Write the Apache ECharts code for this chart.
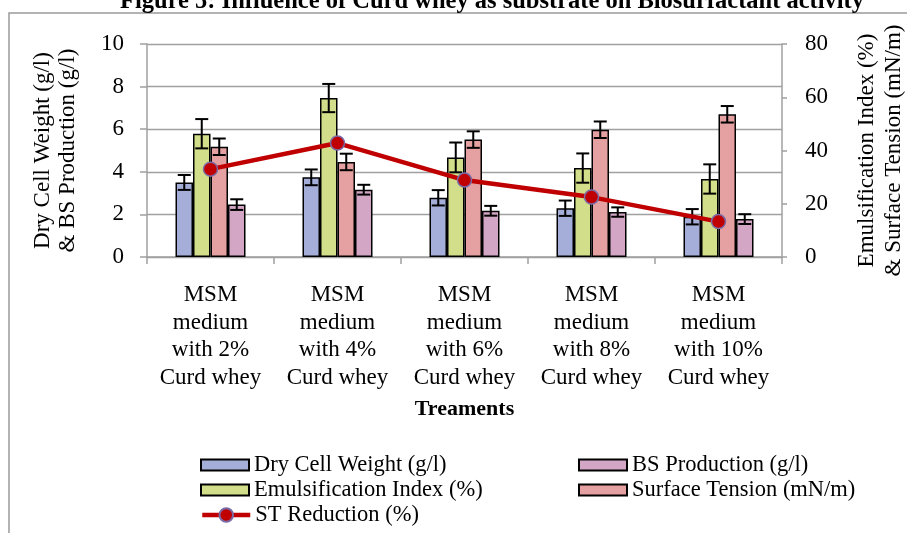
<!DOCTYPE html>
<html>
<head>
<meta charset="utf-8">
<script src="https://cdn.jsdelivr.net/npm/echarts@6/dist/echarts.min.js"></script>
<style>html,body{margin:0;padding:0;background:#fff;}#c{width:907px;height:533px;}</style>
</head>
<body>
<div id="c"></div>
<script>
const titleText = 'Figure 5: Influence of Curd whey as substrate on Biosurfactant activity';
const categories = ['MSM\nmedium\nwith 2%\nCurd whey', 'MSM\nmedium\nwith 4%\nCurd whey', 'MSM\nmedium\nwith 6%\nCurd whey', 'MSM\nmedium\nwith 8%\nCurd whey', 'MSM\nmedium\nwith 10%\nCurd whey'];
const dryCellWeight = [3.5, 3.74, 2.78, 2.29, 1.89];
const dryCellWeightErr = [0.35, 0.37, 0.36, 0.36, 0.36];
const emulsificationIndex = [46.3, 59.7, 37.4, 33.4, 29.3];
const emulsificationIndexErr = [5.5, 5.3, 5.6, 5.5, 5.5];
const surfaceTension = [41.4, 35.7, 44.1, 47.8, 53.6];
const surfaceTensionErr = [3.1, 3.1, 3.1, 3.1, 3.1];
const bsProduction = [2.46, 3.16, 2.17, 2.11, 1.78];
const bsProductionErr = [0.25, 0.23, 0.23, 0.22, 0.23];
const stReduction = [33.0, 42.8, 28.9, 22.5, 13.3];
const leftTicks = {min: 0, max: 10, interval: 2};
const rightTicks = {min: 0, max: 80, interval: 20};

const FONT = 'Liberation Serif';
const BAR_W = 17.5;
const GRAY = '#a0a0a0';

function errSeries(vals, errs, axis, offset) {
  return {
    type: 'custom', yAxisIndex: axis, silent: true, z: 5,
    encode: {x: 0, y: 1},
    data: vals.map((v, i) => [i, v, errs[i]]),
    renderItem: function (p, api) {
      const i = api.value(0), v = api.value(1), e = api.value(2);
      const t = api.coord([i, v + e]), b = api.coord([i, v - e]);
      const x = t[0] + offset, hw = 6.5;
      const st = {stroke: '#000', lineWidth: 2};
      return {type: 'group', children: [
        {type: 'line', shape: {x1: x, y1: t[1], x2: x, y2: b[1]}, style: st},
        {type: 'line', shape: {x1: x - hw, y1: t[1], x2: x + hw, y2: t[1]}, style: st},
        {type: 'line', shape: {x1: x - hw, y1: b[1], x2: x + hw, y2: b[1]}, style: st}
      ]};
    }
  };
}

function barSeries(name, data, axis, color) {
  return {name: name, type: 'bar', yAxisIndex: axis, data: data, barWidth: BAR_W, barGap: '0%',
    itemStyle: {color: color, borderColor: '#000', borderWidth: 1.5}, z: 2};
}

const chart = echarts.init(document.getElementById('c'), null, {renderer: 'canvas'});
const legendText = {fontFamily: FONT, fontSize: 22.5, color: '#000', lineHeight: 25};
function legend(left, top, names, h) {
  return {orient: 'vertical', left: left, top: top, padding: 0, itemGap: 0, itemWidth: 48, itemHeight: h,
    icon: 'rect', textStyle: legendText, lineStyle: {width: 4.5}, data: names};
}
chart.setOption({
  animation: false,
  textStyle: {fontFamily: FONT, color: '#000'},
  graphic: [
    {type: 'rect', silent: true, z: -10, shape: {x: 9, y: 13, width: 1000, height: 600},
      style: {fill: 'none', stroke: '#9a9a9a', lineWidth: 1.5}},
    {type: 'text', x: 492, y: 14, style: {text: titleText, font: 'bold 24.5px "Liberation Serif"',
      textAlign: 'center', textVerticalAlign: 'bottom', fill: '#000'}}
  ],
  legend: [
    legend(200, 452.5, ['Dry Cell Weight (g/l)', 'Emulsification Index (%)'], 11),
    {orient: 'vertical', left: 200, top: 502.5, padding: 0, itemGap: 0, itemWidth: 48, itemHeight: 17,
      textStyle: legendText, lineStyle: {width: 4.5}, data: ['ST Reduction (%)']},
    legend(578, 452.5, ['BS Production (g/l)', 'Surface Tension (mN/m)'], 11)
  ],
  grid: {left: 147, right: 125, top: 44, bottom: 276, containLabel: false, outerBoundsMode: 'none'},
  xAxis: {
    type: 'category', data: categories,
    axisLine: {lineStyle: {color: GRAY, width: 1.5}},
    axisTick: {show: true, length: 7, lineStyle: {color: GRAY, width: 1.5}},
    axisLabel: {interval: 0, fontFamily: FONT, fontSize: 23, lineHeight: 27.7, color: '#000', margin: 24},
    name: 'Treaments', nameLocation: 'middle', nameGap: 141,
    nameTextStyle: {fontFamily: FONT, fontSize: 22, fontWeight: 'bold', color: '#000'}
  },
  yAxis: [
    {type: 'value', position: 'left', min: leftTicks.min, max: leftTicks.max, interval: leftTicks.interval,
      axisLine: {show: true, lineStyle: {color: GRAY, width: 1.5}},
      axisTick: {show: true, length: 7, lineStyle: {color: GRAY, width: 1.5}},
      splitLine: {show: true, lineStyle: {color: GRAY, width: 1.3}},
      axisLabel: {fontFamily: FONT, fontSize: 23, color: '#000', margin: 23},
      name: 'Dry Cell Weight (g/l)\n& BS Production (g/l)', nameLocation: 'middle', nameGap: 67,
      nameTextStyle: {fontFamily: FONT, fontSize: 23, lineHeight: 25, color: '#000'}},
    {type: 'value', position: 'right', min: rightTicks.min, max: rightTicks.max, interval: rightTicks.interval,
      axisLine: {show: true, lineStyle: {color: GRAY, width: 1.5}},
      axisTick: {show: true, length: 5, lineStyle: {color: GRAY, width: 1.5}},
      splitLine: {show: false},
      axisLabel: {fontFamily: FONT, fontSize: 23, color: '#000', margin: 23},
      name: 'Emulsification Index (%)\n& Surface Tension (mN/m)', nameLocation: 'middle', nameGap: 71,
      nameTextStyle: {fontFamily: FONT, fontSize: 23, lineHeight: 27, color: '#000'}}
  ],
  series: [
    barSeries('Dry Cell Weight (g/l)', dryCellWeight, 0, '#a5aed8'),
    barSeries('Emulsification Index (%)', emulsificationIndex, 1, '#d3de8a'),
    barSeries('Surface Tension (mN/m)', surfaceTension, 1, '#e5a1a1'),
    barSeries('BS Production (g/l)', bsProduction, 0, '#d4a6c6'),
    errSeries(dryCellWeight, dryCellWeightErr, 0, -1.5 * BAR_W),
    errSeries(emulsificationIndex, emulsificationIndexErr, 1, -0.5 * BAR_W),
    errSeries(surfaceTension, surfaceTensionErr, 1, 0.5 * BAR_W),
    errSeries(bsProduction, bsProductionErr, 0, 1.5 * BAR_W),
    {name: 'ST Reduction (%)', type: 'line', yAxisIndex: 1, data: stReduction, z: 10,
      symbol: 'circle', symbolSize: 14,
      lineStyle: {color: '#c00000', width: 4.5},
      itemStyle: {color: '#c00000', borderColor: '#7a6aa6', borderWidth: 1.5}}
  ]
});
</script>
</body>
</html>
